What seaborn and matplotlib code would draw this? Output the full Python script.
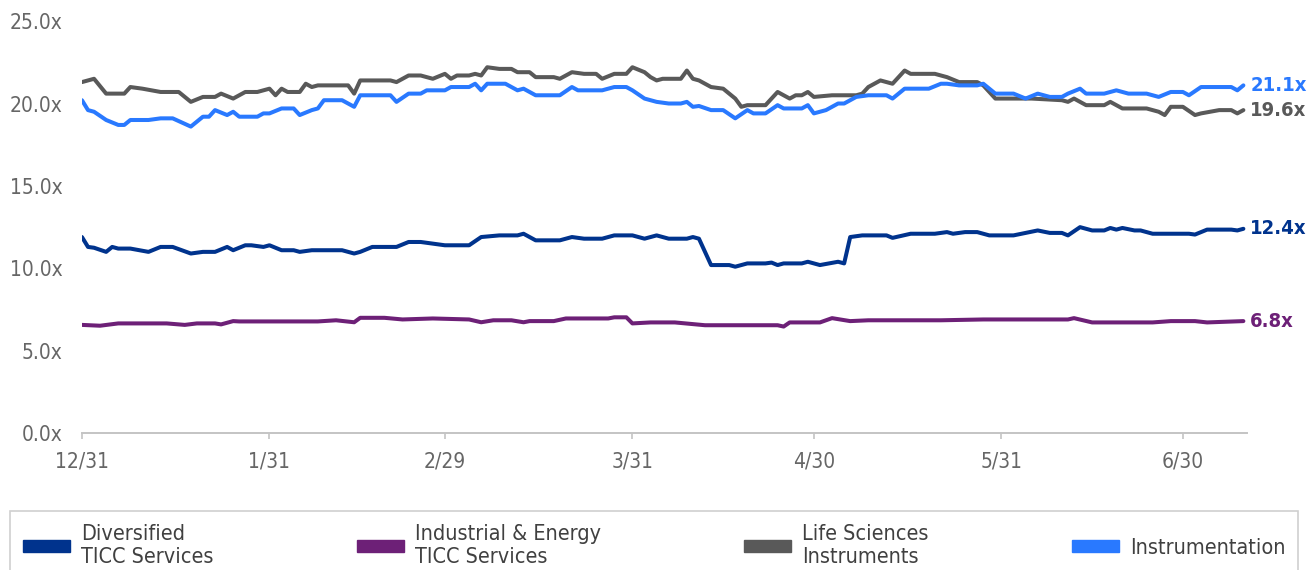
import pandas as pd
import matplotlib
matplotlib.use("Agg")
import matplotlib.pyplot as plt
from matplotlib.patches import Patch
import seaborn as sns

# days after 12/31/2023 and the multiple, per series
div_days = [0, 1, 2, 4, 5, 6, 8, 11, 13, 15, 18, 20, 22, 24, 25, 27, 28, 30, 31, 33, 35, 36, 38, 43, 45, 46, 48, 52,
            54, 56, 58, 60, 64, 66, 69, 72, 73, 75, 79, 81, 83, 86, 88, 91, 93, 95, 97, 100, 101, 102, 104, 107, 108,
            110, 113, 114, 115, 116, 119, 120, 122, 125, 126, 127, 129, 133, 134, 137, 141, 143, 144, 146, 148, 150,
            154, 156, 158, 160, 162, 163, 165, 167, 169, 170, 171, 172, 174, 175, 177, 183, 184, 186, 190, 191, 192]
div_vals = [11.9, 11.3, 11.25, 11.0, 11.3, 11.2, 11.2, 11.0, 11.3, 11.3, 10.9, 11.0, 11.0, 11.3, 11.1, 11.4, 11.4, 11.3,
            11.4, 11.1, 11.1, 11.0, 11.1, 11.1, 10.9, 11.0, 11.3, 11.3, 11.6, 11.6, 11.5, 11.4, 11.4, 11.9, 12.0, 12.0,
            12.1, 11.7, 11.7, 11.9, 11.8, 11.8, 12.0, 12.0, 11.8, 12.0, 11.8, 11.8, 11.9, 11.8, 10.2, 10.2, 10.1, 10.3,
            10.3, 10.35, 10.2, 10.3, 10.3, 10.4, 10.2, 10.4, 10.3, 11.9, 12.0, 12.0, 11.85, 12.1, 12.1, 12.2, 12.1,
            12.2, 12.2, 12.0, 12.0, 12.15, 12.3, 12.15, 12.15, 12.0, 12.5, 12.3, 12.3, 12.45, 12.35, 12.45, 12.3, 12.3,
            12.1, 12.1, 12.05, 12.35, 12.35, 12.3, 12.4]

ind_days = [0, 3, 6, 14, 17, 19, 22, 23, 25, 26, 39, 42, 45, 46, 50, 53, 58, 64, 66, 68, 71, 73, 74, 78, 80, 87, 88,
            90, 91, 94, 98, 103, 115, 116, 117, 122, 124, 127, 130, 142, 149, 163, 164, 167, 177, 180, 184, 186, 192]
ind_vals = [6.57, 6.52, 6.66, 6.66, 6.57, 6.66, 6.66, 6.6, 6.8, 6.78, 6.78, 6.85, 6.73, 7.0, 7.0, 6.9, 6.96, 6.9, 6.73,
            6.85, 6.85, 6.73, 6.8, 6.8, 6.96, 6.96, 7.03, 7.03, 6.66, 6.72, 6.72, 6.55, 6.55, 6.47, 6.72, 6.72, 6.98,
            6.8, 6.85, 6.85, 6.9, 6.9, 6.98, 6.72, 6.72, 6.8, 6.8, 6.72, 6.8]

life_days = [0, 2, 4, 7, 8, 10, 13, 16, 18, 20, 22, 23, 25, 27, 29, 31, 32, 33, 34, 36, 37, 38, 39, 44, 45, 46, 51, 52,
             54, 56, 58, 60, 61, 62, 64, 65, 66, 67, 69, 71, 72, 74, 75, 78, 79, 80, 81, 83, 85, 86, 88, 90, 91, 93,
             94, 95, 96, 99, 100, 101, 102, 104, 106, 107, 108, 109, 110, 113, 115, 117, 118, 119, 120, 121, 124, 128,
             129, 130, 132, 134, 136, 137, 141, 143, 145, 148, 149, 151, 157, 162, 163, 164, 166, 169, 170, 172, 176,
             178, 179, 180, 182, 184, 185, 188, 190, 191, 192]
life_vals = [21.3, 21.5, 20.6, 20.6, 21.0, 20.9, 20.7, 20.7, 20.1, 20.4, 20.4, 20.6, 20.3, 20.7, 20.7, 20.9, 20.5, 20.9,
             20.7, 20.7, 21.2, 21.0, 21.1, 21.1, 20.6, 21.4, 21.4, 21.3, 21.7, 21.7, 21.5, 21.8, 21.5, 21.7, 21.7, 21.8,
             21.7, 22.2, 22.1, 22.1, 21.9, 21.9, 21.6, 21.6, 21.5, 21.7, 21.9, 21.8, 21.8, 21.5, 21.8, 21.8, 22.2, 21.9,
             21.6, 21.4, 21.5, 21.5, 22.0, 21.5, 21.4, 21.0, 20.9, 20.6, 20.3, 19.8, 19.9, 19.9, 20.7, 20.3, 20.5, 20.5,
             20.7, 20.4, 20.5, 20.5, 20.6, 21.0, 21.4, 21.2, 22.0, 21.8, 21.8, 21.6, 21.3, 21.3, 21.1, 20.3, 20.3, 20.2,
             20.1, 20.3, 19.9, 19.9, 20.1, 19.7, 19.7, 19.5, 19.3, 19.8, 19.8, 19.3, 19.4, 19.6, 19.6, 19.4, 19.6]

inst_days = [0, 1, 2, 4, 6, 7, 8, 11, 13, 15, 18, 20, 21, 22, 24, 25, 26, 29, 30, 31, 33, 35, 36, 38, 39, 40, 43, 45,
             46, 51, 52, 54, 56, 57, 60, 61, 64, 65, 66, 67, 70, 72, 73, 75, 79, 81, 82, 86, 88, 90, 91, 93, 95, 97,
             99, 100, 101, 102, 104, 106, 108, 110, 111, 113, 115, 116, 119, 120, 121, 123, 125, 126, 128, 130, 133,
             134, 136, 140, 142, 143, 145, 148, 149, 151, 154, 156, 158, 160, 162, 163, 165, 166, 169, 171, 173, 176,
             178, 180, 182, 183, 185, 190, 191, 192]
inst_vals = [20.2, 19.6, 19.5, 19.0, 18.7, 18.7, 19.0, 19.0, 19.1, 19.1, 18.6, 19.2, 19.2, 19.6, 19.3, 19.5, 19.2, 19.2,
             19.4, 19.4, 19.7, 19.7, 19.3, 19.6, 19.7, 20.2, 20.2, 19.8, 20.5, 20.5, 20.1, 20.6, 20.6, 20.8, 20.8, 21.0,
             21.0, 21.2, 20.8, 21.2, 21.2, 20.8, 20.9, 20.5, 20.5, 21.0, 20.8, 20.8, 21.0, 21.0, 20.8, 20.3, 20.1, 20.0,
             20.0, 20.1, 19.8, 19.85, 19.6, 19.6, 19.1, 19.6, 19.4, 19.4, 19.9, 19.7, 19.7, 19.9, 19.4, 19.6, 20.0, 20.0,
             20.4, 20.5, 20.5, 20.3, 20.9, 20.9, 21.2, 21.2, 21.1, 21.1, 21.2, 20.6, 20.6, 20.3, 20.6, 20.4, 20.4, 20.6,
             20.9, 20.6, 20.6, 20.8, 20.6, 20.6, 20.4, 20.7, 20.7, 20.5, 21.0, 21.0, 20.8, 21.1]

series_names = ["Diversified\nTICC Services", "Industrial & Energy\nTICC Services",
                "Life Sciences\nInstruments", "Instrumentation"]
colors = ["#00338D", "#6D2077", "#595959", "#2979FF"]

tick_dates = ["2023-12-31", "2024-01-31", "2024-02-29", "2024-03-31", "2024-04-30", "2024-05-31", "2024-06-30"]
tick_labels = ["12/31", "1/31", "2/29", "3/31", "4/30", "5/31", "6/30"]
y_ticks = [0, 5, 10, 15, 20, 25]

start = pd.Timestamp("2023-12-31")
frames = []
for name, d, v in zip(series_names,
                      [div_days, ind_days, life_days, inst_days],
                      [div_vals, ind_vals, life_vals, inst_vals]):
    frames.append(pd.DataFrame({"date": start + pd.to_timedelta(d, unit="D"), "value": v, "series": name}))
df = pd.concat(frames, ignore_index=True)

sns.set_theme(style="white")
plt.rcParams["font.family"] = ["DejaVu Sans"]
plt.rcParams["font.stretch"] = "condensed"

fig = plt.figure(figsize=(13.07, 5.70), dpi=100)
ax = fig.add_axes([0.0627, 0.240, 0.8914, 0.723])

sns.lineplot(data=df, x="date", y="value", hue="series", hue_order=series_names,
             palette=colors, linewidth=2.9, legend=False, ax=ax)

# labels at the end of each line
for name, c in zip(series_names, colors):
    last = df[df["series"] == name].iloc[-1]
    ax.annotate(f"{last['value']:.1f}x", (last["date"], last["value"]), xytext=(5, 0),
                textcoords="offset points", color=c, fontsize=14.5, fontweight="bold",
                va="center", ha="left", annotation_clip=False)

ax.set_xlim(start, start + pd.Timedelta(days=192.6))
ax.set_ylim(0, 25)
ax.set_xticks(pd.to_datetime(tick_dates))
ax.set_xticklabels(tick_labels)
ax.set_yticks(y_ticks)
ax.set_yticklabels([f"{t:.1f}x" for t in y_ticks])
ax.set_xlabel("")
ax.set_ylabel("")

for s in ["top", "right", "left"]:
    ax.spines[s].set_visible(False)
ax.spines["bottom"].set_color("#c4c4c4")
ax.spines["bottom"].set_linewidth(1.4)
ax.tick_params(axis="x", colors="#c4c4c4", labelcolor="#666666", labelsize=15,
               length=4, width=1.2, pad=9, direction="out", bottom=True)
ax.tick_params(axis="y", labelcolor="#666666", labelsize=15, length=0, pad=14)

handles = [Patch(facecolor=c, edgecolor=c) for c in colors]
leg = fig.legend(handles, series_names, loc="upper left", ncol=4, mode="expand",
                 bbox_to_anchor=(0.0077, -0.2, 0.9855, 0.3035), frameon=True, fancybox=False,
                 fontsize=15.5, handlelength=2.2, handleheight=0.5, handletextpad=0.5,
                 borderpad=0.6, borderaxespad=0, labelcolor="#404040", labelspacing=0.3)
leg.get_frame().set_edgecolor("#c4c4c4")
leg.get_frame().set_linewidth(1.2)

fig.savefig("out.png", dpi=100)
